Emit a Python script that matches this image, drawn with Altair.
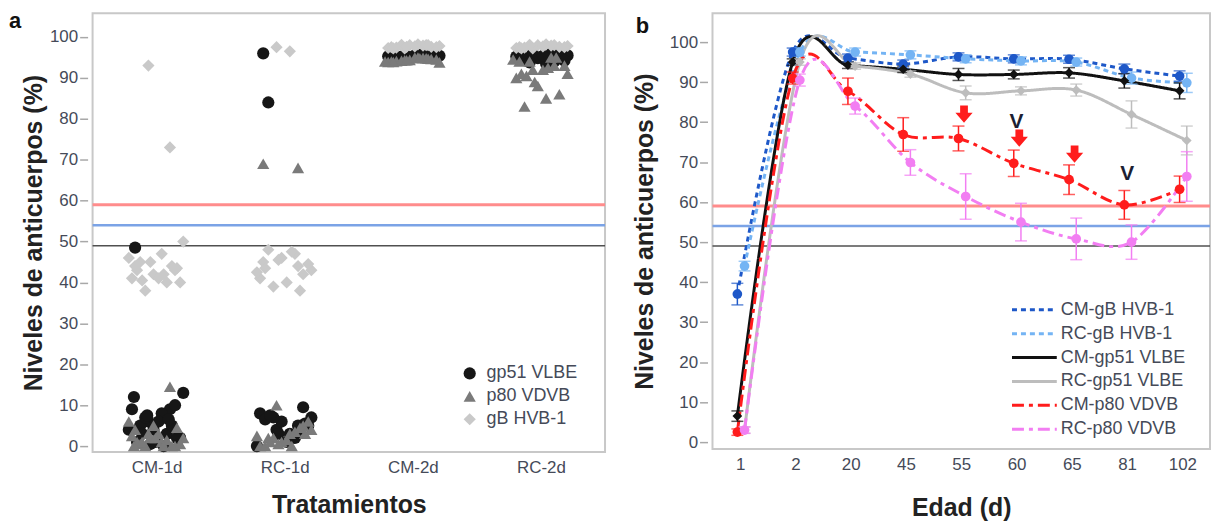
import json
import altair as alt
import pandas as pd

# ---------------- Panel a data ----------------
tratamientos = ["CM-1d", "RC-1d", "CM-2d", "RC-2d"]
antigenos_a = ["gp51 VLBE", "p80 VDVB", "gB HVB-1"]
colores_a = ["#161616", "#7a7a7a", "#c9c9c9"]
formas_a = ["circle", "triangle-up", "diamond"]

cm1d_gp51 = [48.5, 9, 6, 13, 8, 5, 10, 4, 9, 3, 7, 2, 6, 1, 5, 0.5, 4, 0, 3, 2, 1, 12, 6.5, 7.5]
cm1d_p80 = [4, 14.5, 3, 2, 1, 0.5, 0, 5, 2.5, 1.5, 0, 0.5, 3, 1, 0, 2, 6, 0, 1, 4.5, 2, 0]
cm1d_gB = [44, 73, 93, 50, 47, 45, 43, 42, 41, 40, 38, 40, 41, 43, 44, 45, 46, 42, 40.5, 43.5]

rc1d_gp51 = [96, 5, 4, 7, 3, 84, 9.5, 6, 8, 2, 7, 5, 1, 6.5, 4, 3, 0, 2, 7.5, 5.5]
rc1d_p80 = [69, 68, 10, 4, 3, 2, 5, 1, 0, 3.5, 2, 6, 1.5, 0, 4.5, 0.5, 2.5, 0, 1, 3]
rc1d_gB = [45, 44, 97.5, 43, 96.5, 48, 42, 46, 41, 47, 39, 44.5, 40, 43.5, 38, 45.5, 42.5, 47.5]

cm2d_gp51 = [95.2, 95.5, 95, 95.4, 95.7, 95.1, 95.5, 94.9, 95.3, 95.6, 95.2, 95.4, 95.5, 95, 95.3, 95.4]
cm2d_p80 = [94, 94.8, 94.3, 93.8, 95, 94.1, 94.6, 94.4, 93.9, 94.9, 94.2, 94.5, 95, 93.9, 94.7, 94.3, 94, 94.8]
cm2d_gB = [97.5, 98, 97.2, 97.8, 98.2, 97.4, 97.6, 98, 97.3, 97.9, 98.1, 97.5, 97.7, 97.2, 98, 97.6]

rc2d_gp51 = [95, 94, 96, 95.5, 93.5, 94.5, 95.8, 94.8, 95.2, 96, 93.8, 94.2, 95.4, 95.6]
rc2d_p80 = [94, 93, 92, 91, 85, 83, 86, 88, 90, 95, 94, 93, 92, 91, 95, 89, 94.5, 92.5, 90.5]
rc2d_gB = [97.5, 98, 97.2, 97.8, 98.2, 97.4, 97.6, 98, 97.3, 97.9, 98.1, 97.5, 97.7, 97.2]

umbrales = [59, 54, 49]
umbral_colores = ["#ff8c8c", "#7ba3e6", "#505050"]
umbral_grosor = [3, 2.5, 1.5]

# ---------------- Panel b data ----------------
edades = ["1", "2", "20", "45", "55", "60", "65", "81", "102"]
series_b = ["CM-gB HVB-1", "RC-gB HVB-1", "CM-gp51 VLBE", "RC-gp51 VLBE", "CM-p80 VDVB", "RC-p80 VDVB"]
colores_b = ["#1e58c8", "#74b4f4", "#111111", "#bdbdbd", "#ff1c1c", "#f27ef2"]
formas_b = ["circle", "circle", "diamond", "diamond", "circle", "circle"]
trazos_b = [[5, 4], [5, 4], [1, 0], [1, 0], [12, 5, 4, 5], [12, 5, 4, 5]]

cm_gB = [37, 97.5, 96, 94.5, 96.3, 95.8, 95.7, 93.3, 91.5]
cm_gB_err = [2.7, 1, 1, 1, 1, 1, 1, 1.2, 1.3]
rc_gB = [44, 97.5, 97.5, 96.8, 95.8, 95.3, 95, 91, 89.8]
rc_gB_err = [1.2, 1, 1, 1, 1, 1, 1, 1.5, 2.4]
cm_gp51 = [6.5, 95, 94.2, 93.2, 91.9, 91.9, 92.3, 90.3, 87.8]
cm_gp51_err = [1.3, 0.8, 0.8, 0.8, 1.5, 1.1, 1.3, 1.8, 2.0]
rc_gp51 = [3, 95, 94, 92, 87.3, 87.8, 88, 81.9, 75.4]
rc_gp51_err = [0.8, 0.8, 0.8, 0.8, 1.7, 1.0, 1.5, 3.4, 3.6]
cm_p80 = [2.5, 91, 87.7, 76.9, 75.9, 69.7, 65.6, 59.3, 63.2]
cm_p80_err = [0.8, 1.5, 3.3, 4.2, 3.1, 3.3, 3.7, 3.6, 3.3]
rc_p80 = [3, 90.5, 84, 69.9, 61.4, 55, 50.8, 50, 66.4]
rc_p80_err = [0.8, 1.5, 2.0, 3.2, 5.7, 4.7, 5.2, 4.3, 6.2]

flecha_edades = ["55", "60", "65"]
flecha_valores = [82, 76, 72]
v_edades = ["60", "81"]
v_valores = [80, 67]

etiquetas_panel = ["a", "b"]

# ---------------- build tables ----------------
def spread(k):
    # deterministic beeswarm-like spreading within a category
    return ((k * 0.6180339887 + 0.5) % 1.0 - 0.5) * 0.44

grupos_a = {
    "CM-1d": [cm1d_gp51, cm1d_p80, cm1d_gB],
    "RC-1d": [rc1d_gp51, rc1d_p80, rc1d_gB],
    "CM-2d": [cm2d_gp51, cm2d_p80, cm2d_gB],
    "RC-2d": [rc2d_gp51, rc2d_p80, rc2d_gB],
}
rows_a = []
for s_i, serie in enumerate(antigenos_a):
    for c_i, cat in enumerate(tratamientos):
        for k, v in enumerate(grupos_a[cat][s_i]):
            rows_a.append({"serie": serie, "xpos": c_i + spread(k + 1), "valor": v})
df_a = pd.DataFrame(rows_a)

valores_b = [cm_gB, rc_gB, cm_gp51, rc_gp51, cm_p80, rc_p80]
errores_b = [cm_gB_err, rc_gB_err, cm_gp51_err, rc_gp51_err, cm_p80_err, rc_p80_err]
rows_b = []
for serie, vals, errs in zip(series_b, valores_b, errores_b):
    dodge = -0.05 if serie.startswith("CM") else 0.08
    for i, (v, e) in enumerate(zip(vals, errs)):
        rows_b.append({"serie": serie, "xpos": i + dodge, "valor": v, "lo": v - e, "hi": v + e})
df_b = pd.DataFrame(rows_b)

df_flechas = pd.DataFrame({"xpos": [edades.index(d) + 0.05 for d in flecha_edades], "valor": flecha_valores})
df_v = pd.DataFrame({"xpos": [edades.index(d) for d in v_edades], "valor": v_valores, "t": ["V"] * len(v_edades)})

# legend rows for panel b (layout only: row position inside the plot, in pixels from the top)
df_ley = pd.DataFrame({"serie": series_b, "py": [298 + 24 * i for i in range(len(series_b))]})

FONT = "Liberation Sans"
LAB = "#454a58"

def y_axis(tp):
    return alt.Axis(values=list(range(0, 101, 10)), title="Niveles de anticuerpos (%)", grid=False,
                    domain=False, ticks=True, tickSize=8, tickColor="#a8a8a8", tickWidth=1.5,
                    offset=5, labelPadding=2, labelFontSize=17, labelColor=LAB,
                    titleFontSize=25, titleFontWeight="bold", titleColor="#222222",
                    titlePadding=tp, minExtent=38, maxExtent=38)

def x_axis(labels, title, tp):
    return alt.Axis(values=list(range(len(labels))), labelExpr=json.dumps(labels) + "[datum.value]",
                    title=title, grid=False, domain=False, ticks=False, tickSize=0,
                    labelPadding=8, labelFontSize=17, labelColor=LAB, labelOverlap=False,
                    titleFontSize=25, titleFontWeight="bold", titleColor="#222222", titlePadding=tp)

# ---------------- Panel a chart ----------------
ys_a = alt.Scale(domain=[-1.46, 105.8], nice=False, zero=False)
xs_a = alt.Scale(domain=[-0.5, 3.5], nice=False, zero=False)
XA = alt.X("xpos:Q", scale=xs_a, axis=x_axis(tratamientos, "Tratamientos", 17))
ya_axis = y_axis(3)

legend_a = alt.Legend(title=None, orient="none", legendX=370, legendY=353, labelFontSize=18,
                      labelColor=LAB, labelFont=FONT, rowPadding=5, labelOffset=8, padding=0,
                      symbolStrokeWidth=0, symbolSize=150)

puntos_a = alt.Chart(df_a).mark_point(filled=True, opacity=1, size=150, strokeWidth=0).encode(
    x=XA,
    y=alt.Y("valor:Q", scale=ys_a, axis=ya_axis),
    color=alt.Color("serie:N", scale=alt.Scale(domain=antigenos_a, range=colores_a), legend=legend_a),
    shape=alt.Shape("serie:N", scale=alt.Scale(domain=antigenos_a, range=formas_a), legend=legend_a),
)

def reglas(ys, yax):
    out = []
    for v, c, w in zip(umbrales, umbral_colores, umbral_grosor):
        out.append(alt.Chart(pd.DataFrame({"valor": [v]})).mark_rule(color=c, strokeWidth=w).encode(
            y=alt.Y("valor:Q", scale=ys, axis=yax)))
    return out

letra_a = alt.Chart(pd.DataFrame({"t": [etiquetas_panel[0]]})).mark_text(
    align="left", baseline="alphabetic", fontSize=22, fontWeight="bold", color="#111111", font=FONT
).encode(text="t:N", x=alt.value(-84), y=alt.value(15))

panel_a = alt.layer(*reglas(ys_a, ya_axis), puntos_a, letra_a).properties(width=515, height=441)

# ---------------- Panel b chart ----------------
ys_b = alt.Scale(domain=[-1.74, 107.2], nice=False, zero=False)
xs_b = alt.Scale(domain=[-0.5, 8.5], nice=False, zero=False)
yb_axis = y_axis(12)
XB = alt.X("xpos:Q", scale=xs_b, axis=x_axis(edades, "Edad (d)", 23))

color_b = alt.Color("serie:N", scale=alt.Scale(domain=series_b, range=colores_b), legend=None)
dash_b = alt.StrokeDash("serie:N", scale=alt.Scale(domain=series_b, range=trazos_b), legend=None)
fill_b = alt.Fill("serie:N", scale=alt.Scale(domain=series_b, range=colores_b), legend=None)
stroke_b = alt.Stroke("serie:N", scale=alt.Scale(domain=series_b, range=colores_b), legend=None)

lineas = alt.Chart(df_b).mark_line(interpolate="cardinal", strokeWidth=3).encode(
    x=XB, y=alt.Y("valor:Q", scale=ys_b, axis=yb_axis), color=color_b, strokeDash=dash_b,
)
barras = alt.Chart(df_b).mark_rule(strokeWidth=1.5).encode(
    x=XB, y=alt.Y("lo:Q", scale=ys_b, axis=yb_axis), y2="hi:Q", stroke=stroke_b,
)
tapas_lo = alt.Chart(df_b).mark_tick(orient="horizontal", size=12, thickness=1.5).encode(
    x=XB, y=alt.Y("lo:Q", scale=ys_b, axis=yb_axis), fill=fill_b,
)
tapas_hi = alt.Chart(df_b).mark_tick(orient="horizontal", size=12, thickness=1.5).encode(
    x=XB, y=alt.Y("hi:Q", scale=ys_b, axis=yb_axis), fill=fill_b,
)
marcadores = alt.Chart(df_b).mark_point(filled=True, opacity=1, size=95, strokeWidth=0).encode(
    x=XB,
    y=alt.Y("valor:Q", scale=ys_b, axis=yb_axis),
    fill=fill_b,
    shape=alt.Shape("serie:N", scale=alt.Scale(domain=series_b, range=formas_b), legend=None),
)
flecha_path = "M-0.45,-1 L0.45,-1 L0.45,-0.15 L1,-0.15 L0,1 L-1,-0.15 L-0.45,-0.15 Z"
flechas = alt.Chart(df_flechas).mark_point(shape=flecha_path, filled=True, opacity=1, size=300,
                                            color="#ff1c1c", strokeWidth=0).encode(
    x=XB, y=alt.Y("valor:Q", scale=ys_b, axis=yb_axis),
)
marcas_v = alt.Chart(df_v).mark_text(fontSize=21, fontWeight="bold", color="#1c1f33", font=FONT,
                                     baseline="middle").encode(
    x=XB, y=alt.Y("valor:Q", scale=ys_b, axis=yb_axis), text="t:N",
)
letra_b = alt.Chart(pd.DataFrame({"t": [etiquetas_panel[1]]})).mark_text(
    align="left", baseline="alphabetic", fontSize=22, fontWeight="bold", color="#111111", font=FONT
).encode(text="t:N", x=alt.value(-77), y=alt.value(20))

datos_b = alt.layer(*reglas(ys_b, yb_axis), lineas, barras, tapas_lo, tapas_hi, marcadores, flechas,
                    marcas_v, letra_b)

# manual legend for panel b (line samples + labels)
py_scale = alt.Scale(domain=[0, 438], range=[0, 438], nice=False, zero=False)
ley_lineas = alt.Chart(df_ley).mark_rule(strokeWidth=3).encode(
    x=alt.value(301), x2=alt.value(346),
    y=alt.Y("py:Q", scale=py_scale, axis=None),
    color=color_b, strokeDash=dash_b,
)
ley_textos = alt.Chart(df_ley).mark_text(align="left", baseline="middle", fontSize=18, color=LAB,
                                         font=FONT).encode(
    x=alt.value(350), y=alt.Y("py:Q", scale=py_scale, axis=None), text="serie:N",
)
leyenda_b = alt.layer(ley_lineas, ley_textos)

panel_b = alt.layer(datos_b, leyenda_b).resolve_scale(y="independent").properties(width=500, height=438)

chart = alt.hconcat(panel_a, panel_b, spacing=24).resolve_scale(
    color="independent", shape="independent", strokeDash="independent", fill="independent",
    stroke="independent", x="independent", y="independent"
).resolve_legend(color="independent", shape="independent").properties(
    padding=0
).configure(font=FONT).configure_view(stroke="#c8c8c8", strokeWidth=2).configure_axis(
    labelFont=FONT, titleFont=FONT)

chart.save("out.html", embed_options={"renderer": "svg", "actions": False})
